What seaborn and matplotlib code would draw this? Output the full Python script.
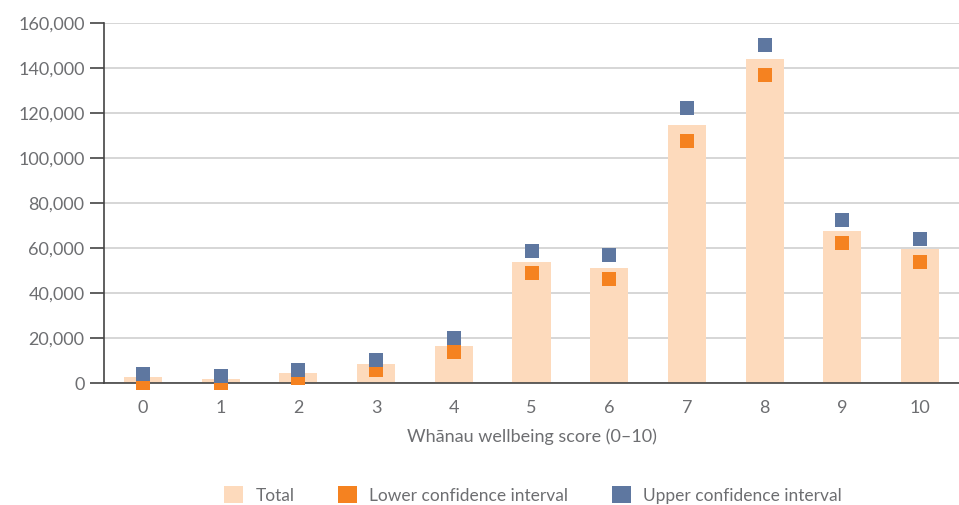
import matplotlib
matplotlib.use("Agg")
import matplotlib.pyplot as plt
import matplotlib.ticker as mticker
from matplotlib.patches import Patch
import seaborn as sns
import pandas as pd
import numpy as np

scores = ["0", "1", "2", "3", "4", "5", "6", "7", "8", "9", "10"]
total = [2700, 1800, 4600, 8300, 16400, 54000, 51300, 114700, 144000, 67700, 59400]
lower_ci = [200, 200, 2400, 6000, 14000, 48700, 46400, 107600, 136900, 62400, 54000]
upper_ci = [4000, 3000, 5900, 10400, 19800, 58500, 56700, 122200, 150200, 72400, 64200]
yticks = [0, 20000, 40000, 60000, 80000, 100000, 120000, 140000, 160000]

BAR = "#FDDABC"
LOW = "#F58220"
UP = "#5E77A0"
TXT = "#6D6E71"

df = pd.DataFrame({"score": scores, "total": total, "lower": lower_ci, "upper": upper_ci})

sns.set_theme(style="white")
plt.rcParams["font.family"] = ["Lato", "DejaVu Sans"]

fig = plt.figure(figsize=(9.59, 5.05), dpi=100)
ax = fig.add_axes([104 / 959, 122 / 505, 855 / 959, 360 / 505])

sns.barplot(data=df, x="score", y="total", order=scores, color=BAR, saturation=1,
            width=0.49, ax=ax, zorder=2, edgecolor="none")
sns.stripplot(data=df, x="score", y="lower", order=scores, jitter=False, marker="s",
              size=9.4, color=LOW, linewidth=0, ax=ax, zorder=3)
sns.stripplot(data=df, x="score", y="upper", order=scores, jitter=False, marker="s",
              size=9.4, color=UP, linewidth=0, ax=ax, zorder=4)
for coll in ax.collections:
    coll.set_clip_on(False)

ax.set_xlim(-0.5, len(scores) - 0.5)
ax.set_ylim(0, 160000)
ax.set_yticks(yticks)
ax.yaxis.set_major_formatter(mticker.FuncFormatter(lambda v, p: f"{int(v):,}"))
ax.yaxis.grid(True, color="#D0D0D0", linewidth=1.2, zorder=0)
ax.set_axisbelow(True)

ax.set_xticks(range(len(scores)))
ax.set_xticklabels(scores)
ax.set_xticks(np.arange(-0.5, len(scores), 1.0), minor=True)
ax.tick_params(axis="x", which="major", length=0, pad=12, labelsize=13, labelcolor=TXT)
ax.tick_params(axis="x", which="minor", length=10, width=1.2, color="#444444", direction="out")
ax.tick_params(axis="y", which="major", length=10, width=1.2, color="#444444", direction="out",
               labelsize=13, labelcolor=TXT, pad=4, left=True)

for s in ["top", "right"]:
    ax.spines[s].set_visible(False)
for s in ["left", "bottom"]:
    ax.spines[s].set_color("#444444")
    ax.spines[s].set_linewidth(1.2)

ax.set_ylabel("")
ax.set_xlabel("Whānau wellbeing score (0–10)", fontsize=13, color=TXT, labelpad=9)

handles = [Patch(facecolor=BAR, edgecolor="none", label="Total"),
           Patch(facecolor=LOW, edgecolor="none", label="Lower confidence interval"),
           Patch(facecolor=UP, edgecolor="none", label="Upper confidence interval")]
fig.legend(handles=handles, loc="center", bbox_to_anchor=(533 / 959, 1 - 495 / 505), ncol=3,
           frameon=False, fontsize=12.5, labelcolor=TXT, handlelength=1.1, handleheight=1.1,
           columnspacing=2.5, handletextpad=0.7)

fig.savefig("out.png", dpi=100)
